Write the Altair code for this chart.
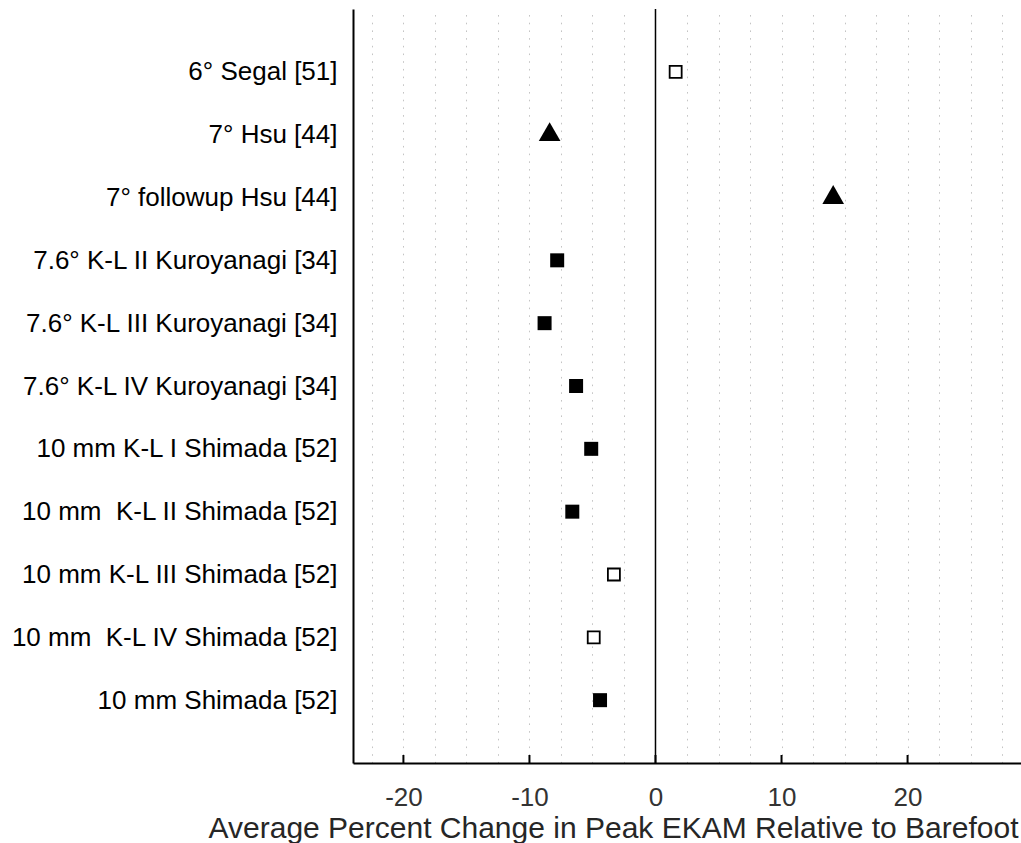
import altair as alt
import pandas as pd

# Studies (top to bottom) and their average percent change in peak EKAM
NB = "\u00a0"  # keeps the wider gap in a few labels from collapsing
studies = [
    "6° Segal [51]",
    "7° Hsu [44]",
    "7° followup Hsu [44]",
    "7.6° K-L II Kuroyanagi [34]",
    "7.6° K-L III Kuroyanagi [34]",
    "7.6° K-L IV Kuroyanagi [34]",
    "10 mm K-L I Shimada [52]",
    "10 mm " + NB + "K-L II Shimada [52]",
    "10 mm K-L III Shimada [52]",
    "10 mm " + NB + "K-L IV Shimada [52]",
    "10 mm Shimada [52]",
]
change = [1.6, -8.4, 14.1, -7.8, -8.8, -6.3, -5.1, -6.6, -3.3, -4.9, -4.4]
marker = ["open", "triangle", "triangle", "filled", "filled", "filled",
          "filled", "filled", "open", "open", "filled"]

# Axis tick values and the finer dotted grid
tick_values = [-20, -10, 0, 10, 20]
grid_values = [-22.5, -20, -17.5, -15, -12.5, -10, -7.5, -5, -2.5, 0, 2.5,
               5, 7.5, 10, 12.5, 15, 17.5, 20, 22.5, 25, 27.5]

df = pd.DataFrame({"study": studies, "change": change, "marker": marker})
ticks_df = pd.DataFrame({"v": tick_values})
zero_df = pd.DataFrame({"v": [0]})

FONT = "Liberation Sans"
W, H = 668, 754

x_scale = alt.Scale(domain=[-24, 29], nice=False, zero=False)
y_scale = alt.Scale(type="point", padding=1)

x_axis = alt.Axis(
    title="Average Percent Change in Peak EKAM Relative to Barefoot",
    values=grid_values,
    labelExpr="datum.value % 10 === 0 ? '' + datum.value : ''",
    grid=True, gridColor="#c4c4c4", gridDash=[1.6, 6.1], gridWidth=1,
    ticks=False, tickSize=0,
    domain=True, domainColor="#000000", domainWidth=2,
    labelFont=FONT, labelFontSize=26, labelColor="#333333", labelPadding=21,
    labelFlush=False,
    titleFont=FONT, titleFontSize=30, titleFontWeight="normal", titleColor="#262626",
    titleAlign="right", titleAnchor="start", titleX=665, titleY=74,
    titleBaseline="alphabetic",
)
y_axis = alt.Axis(
    title=None, ticks=False, tickSize=0, grid=False,
    domain=True, domainColor="#000000", domainWidth=2,
    labelFont=FONT, labelFontSize=26, labelColor="#000000", labelPadding=16,
    labelLimit=400,
)

y_enc = alt.Y("study:N", sort=studies, scale=y_scale, axis=y_axis)

base = alt.Chart(df).encode(
    x=alt.X("change:Q", scale=x_scale, axis=x_axis),
    y=y_enc,
)

filled = base.transform_filter("datum.marker === 'filled'").mark_point(
    shape="square", filled=True, color="#000000", size=196, opacity=1
)
opened = base.transform_filter("datum.marker === 'open'").mark_point(
    shape="square", filled=True, fill="#ffffff", stroke="#000000",
    strokeWidth=1.8, size=144, opacity=1
)
tri = base.transform_filter("datum.marker === 'triangle'").mark_point(
    shape="triangle-up", filled=True, color="#000000", size=470, opacity=1,
    yOffset=-3
)

# Solid reference line at zero change
zero = alt.Chart(zero_df).mark_rule(color="#000000", strokeWidth=1.5).encode(
    x=alt.X("v:Q", scale=x_scale, axis=x_axis),
)

# Inward tick marks on the x axis
tick_marks = alt.Chart(ticks_df).mark_rule(color="#000000", strokeWidth=2).encode(
    x=alt.X("v:Q", scale=x_scale, axis=x_axis),
    y=alt.value(H - 8),
    y2=alt.value(H),
)

chart = (
    alt.layer(zero, tick_marks, opened, filled, tri)
    .properties(
        width=W, height=H,
        autosize=alt.AutoSizeParams(type="none"),
        padding={"left": 353, "top": 9, "right": 0, "bottom": 80},
        background="#ffffff",
    )
    .configure_view(stroke=None)
)

chart.save("out.html", embed_options={"renderer": "svg", "actions": False})
